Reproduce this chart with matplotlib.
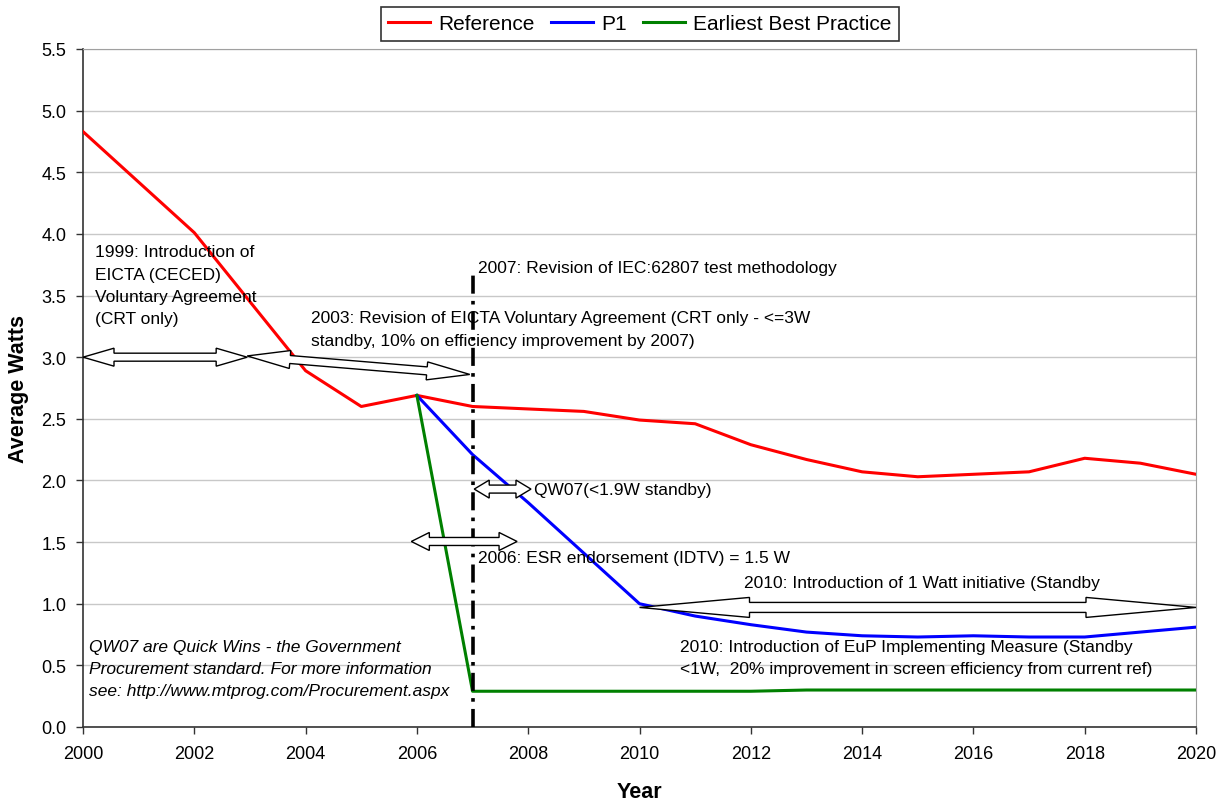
import matplotlib
matplotlib.use("Agg")
import matplotlib.pyplot as plt
import numpy as np
from matplotlib.patches import Polygon

plt.rcParams['font.family'] = ['Liberation Sans', 'DejaVu Sans']

years = list(range(2000, 2021))
reference = [4.83, 4.42, 4.01, 3.45, 2.89, 2.60, 2.69, 2.60, 2.58, 2.56, 2.49,
             2.46, 2.29, 2.17, 2.07, 2.03, 2.05, 2.07, 2.18, 2.14, 2.05]
p1_years = list(range(2006, 2021))
p1 = [2.69, 2.21, 1.82, 1.41, 1.00, 0.90, 0.83, 0.77, 0.74, 0.73, 0.74, 0.73, 0.73, 0.77, 0.81]
ebp_years = list(range(2006, 2021))
ebp = [2.69, 0.29, 0.29, 0.29, 0.29, 0.29, 0.29, 0.30, 0.30, 0.30, 0.30, 0.30, 0.30, 0.30, 0.30]

series_names = ["Reference", "P1", "Earliest Best Practice"]
series_colors = ["#FF0000", "#0000FF", "#008000"]

xticks = list(range(2000, 2021, 2))
yticks = [i * 0.5 for i in range(12)]

# annotations: (x0, y0, x1, y1, head_len_px, head_half_px, shaft_half_px)
arrows = [
    (2000.0, 3.00, 2002.95, 3.00, 31, 9, 4),
    (2002.95, 3.01, 2006.95, 2.86, 43, 9, 4),
    (2007.03, 1.93, 2008.05, 1.93, 15, 9, 4),
    (2005.9, 1.505, 2007.8, 1.505, 18, 9, 4),
    (2010.0, 0.97, 2020.0, 0.97, 110, 10, 5),
]

texts = [
    (2000.22, 3.915, "1999: Introduction of\nEICTA (CECED)\nVoluntary Agreement\n(CRT only)", 'normal'),
    (2004.1, 3.38, "2003: Revision of EICTA Voluntary Agreement (CRT only - <=3W\nstandby, 10% on efficiency improvement by 2007)", 'normal'),
    (2007.1, 3.79, "2007: Revision of IEC:62807 test methodology", 'normal'),
    (2008.1, 1.985, "QW07(<1.9W standby)", 'normal'),
    (2007.1, 1.435, "2006: ESR endorsement (IDTV) = 1.5 W", 'normal'),
    (2011.88, 1.235, "2010: Introduction of 1 Watt initiative (Standby", 'normal'),
    (2010.72, 0.715, "2010: Introduction of EuP Implementing Measure (Standby\n<1W,  20% improvement in screen efficiency from current ref)", 'normal'),
    (2000.1, 0.715, "QW07 are Quick Wins - the Government\nProcurement standard. For more information\nsee: http://www.mtprog.com/Procurement.aspx", 'italic'),
]

fig = plt.figure(figsize=(12.26, 8.04), dpi=100)
ax = fig.add_axes([83 / 1226, 1 - 728 / 804, (1196 - 83) / 1226, (728 - 50) / 804])

ax.set_xlim(2000, 2020)
ax.set_ylim(0, 5.5)
ax.set_xticks(xticks)
ax.set_yticks(yticks)
ax.set_yticklabels([f"{v:.1f}" for v in yticks])
ax.tick_params(labelsize=13, direction='out', length=5, width=1, colors='#333333', labelcolor='black')
ax.tick_params(axis='x', pad=8)
ax.tick_params(axis='y', pad=7)
ax.grid(axis='y', color='#c8c8c8', linewidth=1)
ax.set_axisbelow(True)
for s in ['top', 'right']:
    ax.spines[s].set_color('#a0a0a0')
for s in ['left', 'bottom']:
    ax.spines[s].set_color('#333333')
    ax.spines[s].set_linewidth(1.2)

l1, = ax.plot(years, reference, color=series_colors[0], lw=2.2, label=series_names[0], zorder=4)
l2, = ax.plot(p1_years, p1, color=series_colors[1], lw=2.2, label=series_names[1], zorder=4)
l3, = ax.plot(ebp_years, ebp, color=series_colors[2], lw=2.2, label=series_names[2], zorder=4)

ax.plot([2007, 2007], [0, 3.68], color='black', lw=2.6, linestyle=(0, (5, 2, 1, 2)), zorder=5)

ax.set_xlabel("Year", fontsize=15.5, fontweight='bold', labelpad=14)
ax.set_ylabel("Average Watts", fontsize=15.5, fontweight='bold', labelpad=9)

leg = fig.legend(handles=[l1, l2, l3], loc='center', bbox_to_anchor=(640 / 1226, 1 - 25 / 804),
                 ncol=3, frameon=True, fancybox=False, edgecolor='black', fontsize=15,
                 handlelength=2.0, columnspacing=0.8, handletextpad=0.4, borderpad=0.35,
                 borderaxespad=0.2)
leg.get_frame().set_linewidth(1.2)

fig.canvas.draw()
inv = ax.transData.inverted()

def block_darrow(x0, y0, x1, y1, hl, hw, sw):
    p0 = ax.transData.transform((x0, y0))
    p1 = ax.transData.transform((x1, y1))
    d = p1 - p0
    L = np.hypot(*d)
    u = d / L
    n = np.array([-u[1], u[0]])
    pts = [
        p0,
        p0 + u * hl + n * hw,
        p0 + u * hl + n * sw,
        p1 - u * hl + n * sw,
        p1 - u * hl + n * hw,
        p1,
        p1 - u * hl - n * hw,
        p1 - u * hl - n * sw,
        p0 + u * hl - n * sw,
        p0 + u * hl - n * hw,
    ]
    data_pts = inv.transform(np.array(pts))
    poly = Polygon(data_pts, closed=True, facecolor='white', edgecolor='black', lw=1.0,
                   zorder=6, clip_on=False)
    ax.add_patch(poly)

for a in arrows:
    block_darrow(*a)

for x, y, t, style in texts:
    ax.text(x, y, t, fontsize=12.5, style=style, va='top', ha='left', linespacing=1.6, zorder=7)

fig.savefig("out.png", dpi=100)
